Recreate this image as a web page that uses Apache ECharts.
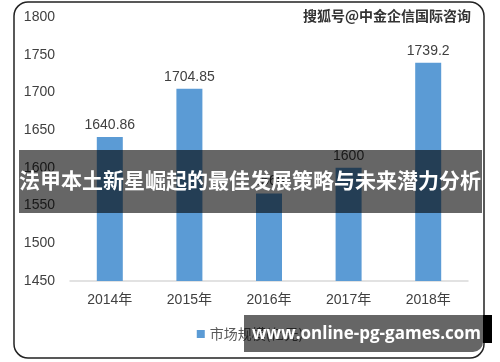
<!DOCTYPE html>
<html><head><meta charset="utf-8">
<script src="https://cdn.jsdelivr.net/npm/echarts@6/dist/echarts.min.js"></script>
<style>html,body{margin:0;padding:0;background:#fff}#c{width:500px;height:362px}</style>
</head><body><div id="c"></div>
<script>
const categories = ['2014年','2015年','2016年','2017年','2018年'];
const marketSize = [1640.86, 1704.85, 1566, 1600, 1739.2];
const labels = ['1640.86','1704.85','1566','1600','1739.2'];
const seriesName = '市场规模(亿元)';
const chart = echarts.init(document.getElementById('c'), null, {renderer:'canvas'});
chart.setOption({
  animation:false,
  grid:{left:70,right:32,top:17,bottom:81,containLabel:false},
  legend:{data:[seriesName],bottom:16,left:'center',itemWidth:8,itemHeight:8,icon:'rect',itemGap:5,
    textStyle:{fontSize:14,color:'#595959',fontFamily:'Noto Sans CJK SC'}},
  xAxis:{type:'category',data:categories,axisTick:{show:false},
    axisLine:{lineStyle:{color:'#d9d9d9',width:1.5}},
    axisLabel:{fontSize:14,color:'#404040',margin:12,fontFamily:'Liberation Sans, Noto Sans CJK SC'}},
  yAxis:{type:'value',min:1450,max:1800,interval:50,splitLine:{show:false},
    axisLine:{show:false},axisTick:{show:false},
    axisLabel:{fontSize:14,color:'#404040',margin:15,fontFamily:'Liberation Sans',formatter:v=>String(v)}},
  series:[{name:seriesName,type:'bar',data:marketSize,barWidth:26,itemStyle:{color:'#5b9bd5'},
    label:{show:true,position:'top',fontSize:14,color:'#404040',fontFamily:'Liberation Sans',distance:5,
      formatter:p=>labels[p.dataIndex]}}],
  graphic:[
    {type:'rect',z:100,shape:{x:14,y:2,width:470,height:356,r:14},style:{fill:'none',stroke:'#222',lineWidth:1.5}},
    {type:'text',z:100,right:28,top:8,style:{text:'搜狐号@中金企信国际咨询',fontSize:14,fontWeight:'bold',
      fontFamily:'Noto Sans CJK SC',fill:'#333',stroke:'#fff',lineWidth:2}},
    {type:'rect',z:100,shape:{x:19,y:150,width:463,height:63},style:{fill:'rgba(0,0,0,0.6)'}},
    {type:'text',z:101,left:'center',top:170,style:{text:'法甲本土新星崛起的最佳发展策略与未来潜力分析',x:0,
      fontSize:21,fontWeight:'bold',fontFamily:'Noto Sans CJK SC',fill:'#fff'}},
    {type:'rect',z:100,shape:{x:483,y:315,width:9,height:28},style:{fill:'#000'}},
    {type:'rect',z:100,shape:{x:244,y:315,width:239,height:37,r:[0,0,10,0]},style:{fill:'rgba(0,0,0,0.6)'}},
    {type:'text',z:101,left:252,top:326,style:{text:'www.online-pg-games.com',fontSize:17,fontWeight:'bold',
      fontFamily:'Open Sans',fill:'#fff'}}
  ]
});
</script></body></html>
